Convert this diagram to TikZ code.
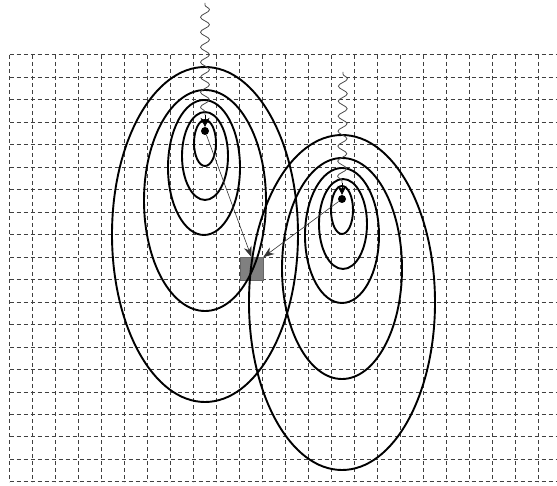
\documentclass[tikz,border=0pt]{standalone}
\usetikzlibrary{decorations.pathmorphing,arrows.meta}
\begin{document}
\begin{tikzpicture}[x=1pt,y=-1pt,
  gridline/.style={draw=black!75, line width=1pt, dash pattern=on 4pt off 3pt},
  contour/.style={draw=black, line width=1.9pt},
  wave/.style={draw=black!70, line width=0.8pt, decorate,
    decoration={snake, segment length=15pt, amplitude=4.5pt, pre length=2pt, post length=2pt}},
  ray/.style={draw=black!80, line width=0.6pt, -{Stealth[length=11pt,width=8pt]}},
  srcdot/.style={circle, fill=black, inner sep=0pt, minimum size=8pt},
  drop/.style={draw=black, line width=0.6pt, -{Stealth[length=9pt,width=9pt]}},
  sinkbox/.style={draw=black!60, fill=black!50, line width=0.5pt, inner sep=0pt,
    minimum width=23pt, minimum height=22.5pt},
]
\useasboundingbox (0,0) rectangle (557,486);
% grid
\foreach \k in {0,...,23}
  \draw[gridline] ({9.5+23.02*\k},55) -- ({9.5+23.02*\k},482);
\foreach \k in {0,...,19}
  \draw[gridline] (9.5,{55+22.47*\k}) -- (557,{55+22.47*\k});
% sink
\node[sinkbox] (sink) at (251.5,268.75) {};
% left contour group
\draw[contour] (205,234.5) ellipse [x radius=93, y radius=167.5];
\draw[contour] (205,200.5) ellipse [x radius=61, y radius=110.5];
\draw[contour] (204,167.5) ellipse [x radius=36, y radius=67.5];
\draw[contour] (205,156) ellipse [x radius=23, y radius=44];
\draw[contour] (205,143) ellipse [x radius=11, y radius=23];
% right contour group
\draw[contour] (342,302.5) ellipse [x radius=93, y radius=167.5];
\draw[contour] (342,268.5) ellipse [x radius=60, y radius=110.5];
\draw[contour] (342,235.5) ellipse [x radius=37, y radius=67.5];
\draw[contour] (343,224) ellipse [x radius=24, y radius=45];
\draw[contour] (342,210) ellipse [x radius=11, y radius=24];
% sources
\node[srcdot] (src1) at (205,131) {};
\node[srcdot] (src2) at (342,199) {};
\coordinate (w1top) at (205,3);
\coordinate (w1end) at (205,115);
\coordinate (w2top) at (343,72);
\coordinate (w2end) at (342,183);
\draw[wave] (w1top) -- (w1end);
\draw[wave] (w2top) -- (w2end);
\draw[drop] (w1end) -- (src1.north);
\draw[drop] (w2end) -- (src2.north);
% rays to sink
\draw[ray] (src1) -- (sink.north);
\draw[ray] (src2) -- (sink.north east);
\end{tikzpicture}
\end{document}
